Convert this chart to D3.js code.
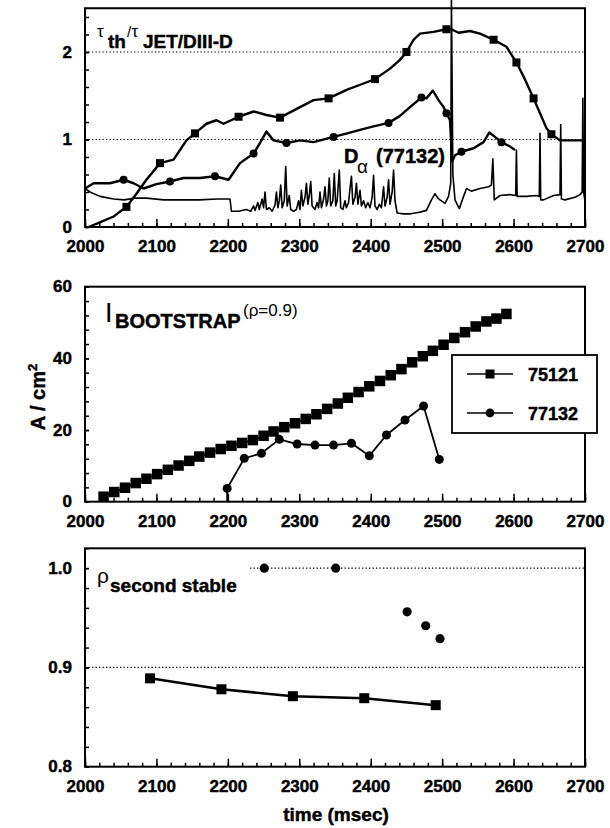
<!DOCTYPE html>
<html><head><meta charset="utf-8">
<script src="https://cdn.jsdelivr.net/npm/d3@7"></script>
<style>
body{margin:0;background:#fff;}
svg{display:block;font-family:"Liberation Sans",Arial,sans-serif;}
</style></head><body>
<svg id="c" width="610" height="828"></svg>
<script>
// ---------- DATA ----------
const xTickLabels = [2000, 2100, 2200, 2300, 2400, 2500, 2600, 2700];
const p1TickLabels = [0, 1, 2];
const p2TickLabels = [0, 20, 40, 60];
const p3TickLabels = [0.8, 0.9, 1.0];

// Panel 1: tau_th / tau_JET/DIII-D (75121, squares)
const tau75121 = [[2005,0],[2020,0.05],[2040,0.12],[2058,0.23],[2072,0.38],[2086,0.54],[2105,0.73],[2124,0.77],[2142,0.99],[2154,1.07],[2170,1.18],[2184,1.22],[2194,1.18],[2215,1.26],[2236,1.32],[2254,1.28],[2273,1.25],[2301,1.37],[2320,1.45],[2341,1.47],[2367,1.57],[2390,1.64],[2406,1.69],[2427,1.81],[2441,1.91],[2450,2.0],[2460,2.14],[2469,2.21],[2488,2.23],[2506,2.26],[2513,2.26],[2523,2.22],[2539,2.24],[2553,2.21],[2572,2.14],[2590,2.06],[2604,1.88],[2614,1.72],[2628,1.47],[2637,1.30],[2646,1.13],[2653,1.06],[2665,0.99],[2684,0.99],[2698,0.99]];
const tau75121Marks = [[2058,0.23],[2105,0.73],[2154,1.07],[2215,1.26],[2273,1.25],[2341,1.47],[2406,1.69],[2450,2.0],[2506,2.26],[2572,2.14],[2604,1.88],[2628,1.47],[2653,1.06]];
// Panel 1: tau (77132, circles)
const tau77132 = [[2000,0.44],[2012,0.50],[2035,0.50],[2054,0.54],[2068,0.50],[2082,0.44],[2100,0.49],[2119,0.52],[2138,0.56],[2161,0.56],[2182,0.58],[2201,0.54],[2217,0.73],[2236,0.84],[2245,0.96],[2254,1.09],[2264,0.99],[2282,0.96],[2301,0.99],[2320,0.97],[2348,1.03],[2367,1.07],[2385,1.11],[2404,1.15],[2425,1.19],[2441,1.27],[2455,1.37],[2471,1.48],[2478,1.47],[2487,1.56],[2495,1.45],[2502,1.37],[2506,1.30],[2511,1.22],[2514,0.75],[2518,0.82],[2527,0.86],[2544,0.90],[2558,0.97],[2566,1.08],[2574,1.03],[2583,0.97],[2595,0.92],[2602,0.88]];
const tau77132Marks = [[2054,0.54],[2119,0.52],[2182,0.58],[2236,0.84],[2282,0.96],[2348,1.03],[2425,1.19],[2471,1.48],[2506,1.30],[2527,0.86],[2583,0.97]];
// Panel 1: D-alpha (77132)
const dAlpha = [[2000,0.44],[2007,0.40],[2021,0.35],[2040,0.32],[2055,0.31],[2070,0.33],[2086,0.33],[2110,0.31],[2133,0.31],[2160,0.31],[2185,0.32],[2203,0.32],[2205,0.18],[2215,0.18],[2226,0.20],[2232,0.18],[2236,0.24],[2238,0.19],[2242,0.28],[2244,0.20],[2248,0.32],[2250,0.22],[2252,0.40],[2254,0.20],[2258,0.22],[2262,0.18],[2266,0.25],[2268,0.40],[2270,0.22],[2272,0.30],[2274,0.48],[2276,0.22],[2279,0.30],[2281,0.69],[2283,0.24],[2286,0.36],[2288,0.20],[2292,0.18],[2296,0.20],[2299,0.30],[2301,0.20],[2303,0.42],[2305,0.24],[2308,0.34],[2310,0.50],[2312,0.26],[2314,0.36],[2316,0.52],[2318,0.24],[2322,0.20],[2325,0.28],[2327,0.22],[2329,0.40],[2331,0.22],[2334,0.32],[2336,0.46],[2338,0.24],[2340,0.30],[2342,0.56],[2344,0.24],[2347,0.30],[2349,0.61],[2351,0.24],[2353,0.30],[2356,0.65],[2358,0.22],[2361,0.20],[2364,0.30],[2366,0.22],[2369,0.28],[2371,0.44],[2373,0.58],[2375,0.26],[2378,0.34],[2380,0.50],[2382,0.26],[2385,0.42],[2387,0.24],[2390,0.30],[2393,0.22],[2396,0.28],[2399,0.22],[2402,0.34],[2404,0.59],[2406,0.24],[2409,0.20],[2412,0.26],[2415,0.22],[2418,0.46],[2420,0.24],[2423,0.34],[2425,0.54],[2427,0.26],[2430,0.40],[2432,0.65],[2434,0.30],[2437,0.16],[2446,0.15],[2455,0.15],[2462,0.16],[2469,0.17],[2478,0.19],[2485,0.31],[2490,0.38],[2494,0.33],[2497,0.31],[2504,0.27],[2509,0.35],[2512,0.50],[2513,2.62],[2515,0.60],[2518,0.31],[2524,0.21],[2530,0.35],[2534,0.44],[2541,0.41],[2553,0.44],[2565,0.46],[2569,0.48],[2571,0.78],[2573,0.31],[2581,0.36],[2595,0.37],[2603,0.36],[2604,0.88],[2605,0.35],[2618,0.35],[2632,0.36],[2636,0.35],[2637,1.07],[2638,0.31],[2642,0.31],[2656,0.36],[2665,0.37],[2666,1.17],[2667,0.32],[2672,0.31],[2686,0.34],[2693,0.37],[2696,0.40],[2697,1.47],[2698,0.40],[2700,0.30]];

// Panel 2: I_bootstrap (A/cm^2)
const boot75121 = [[2026,1.4],[2041,2.7],[2056,3.9],[2071,5.2],[2086,6.4],[2101,7.7],[2116,8.9],[2131,10.1],[2146,11.4],[2160,12.6],[2175,13.7],[2190,14.7],[2205,15.6],[2220,16.4],[2235,17.2],[2250,18.4],[2264,19.6],[2279,20.8],[2294,21.9],[2309,23.1],[2324,24.4],[2339,25.9],[2354,27.4],[2368,29.0],[2383,30.6],[2398,32.2],[2413,33.7],[2428,35.3],[2443,37.0],[2458,38.9],[2473,40.6],[2487,42.1],[2502,43.8],[2517,45.7],[2532,47.3],[2547,48.9],[2562,50.3],[2576,51.1],[2590,52.4]];
const boot77132 = [[2199,0],[2199,3.7],[2223,12.1],[2247,13.5],[2272,17.4],[2297,16.1],[2322,15.8],[2348,15.8],[2373,16.3],[2398,12.8],[2422,18.6],[2448,22.8],[2474,26.7],[2496,11.8]];
const legendLabels = ["75121", "77132"];

// Panel 3: rho second stable
const rho75121 = [[2091,0.889],[2191,0.878],[2291,0.871],[2391,0.869],[2491,0.862]];
const rho77132 = [[2251,1.0],[2351,1.0],[2451,0.956],[2477,0.942],[2497,0.929]];

// ---------- DRAW ----------
const svg = d3.select('#c');
const X0 = 85, X1 = 585;
const x = d3.scaleLinear().domain([2000, 2700]).range([X0, X1]);
const minorX = d3.range(2000, 2701, 20);
const FONT = '"Liberation Sans", Arial, sans-serif';

function heavy(sel) {
  sel.attr('stroke', '#000').attr('stroke-width', 0.45).attr('paint-order', 'stroke');
}

function panel(top, bottom, domain, yLabels, yMinorStep, fmt, grid, gridStart) {
  const y = d3.scaleLinear().domain(domain).range([bottom, top]);
  const g = svg.append('g');
  grid.forEach(v => {
    g.append('line').attr('x1', gridStart || X0).attr('x2', X1)
      .attr('y1', y(v)).attr('y2', y(v))
      .attr('stroke', '#000').attr('stroke-width', 1.2)
      .attr('stroke-dasharray', '1.3,2.2');
  });
  const bx = g.append('g').attr('transform', `translate(0,${bottom})`)
    .call(d3.axisBottom(x).tickValues(minorX).tickSize(-4).tickFormat(''));
  const bX = g.append('g').attr('transform', `translate(0,${bottom})`)
    .call(d3.axisBottom(x).tickValues(xTickLabels).tickSize(-8).tickPadding(13).tickFormat(d3.format('d')));
  const minorY = d3.range(domain[0], domain[1] + 1e-9, yMinorStep);
  const lx = g.append('g').attr('transform', `translate(${X0},0)`)
    .call(d3.axisLeft(y).tickValues(minorY).tickSize(-4).tickFormat(''));
  const lY = g.append('g').attr('transform', `translate(${X0},0)`)
    .call(d3.axisLeft(y).tickValues(yLabels).tickSize(-4).tickPadding(13).tickFormat(fmt));
  [bx, bX, lx, lY].forEach(a => {
    a.select('.domain').remove();
    a.selectAll('line').attr('stroke', '#000').attr('stroke-width', 1.5);
    a.selectAll('text').attr('fill', '#000').style('font-family', FONT)
      .style('font-size', '17px').style('font-weight', 'bold').call(heavy);
  });
  lY.selectAll('text').attr('dy', '0.3em');
  g.append('rect').attr('x', X0).attr('y', top).attr('width', X1 - X0).attr('height', bottom - top)
    .attr('fill', 'none').attr('stroke', '#000').attr('stroke-width', 2);
  return {g, y};
}

function drawLine(p, data, w) {
  p.g.append('path').datum(data)
    .attr('d', d3.line().x(d => x(d[0])).y(d => p.y(d[1])))
    .attr('fill', 'none').attr('stroke', '#000').attr('stroke-width', w)
    .attr('stroke-linejoin', 'round');
}
function squares(p, data, s) {
  p.g.selectAll(null).data(data).enter().append('rect')
    .attr('x', d => x(d[0]) - s / 2).attr('y', d => p.y(d[1]) - s / 2)
    .attr('width', s).attr('height', s).attr('fill', '#000');
}
function circles(p, data, r) {
  p.g.selectAll(null).data(data).enter().append('circle')
    .attr('cx', d => x(d[0])).attr('cy', d => p.y(d[1])).attr('r', r).attr('fill', '#000');
}
function txt(xp, yp, s, size, weight, anchor) {
  const t = svg.append('text').attr('x', xp).attr('y', yp).text(s)
    .style('font-family', FONT).style('font-size', size + 'px')
    .style('font-weight', weight || 'bold').attr('text-anchor', anchor || 'start').attr('fill', '#000');
  if ((weight || 'bold') === 'bold') t.call(heavy);
  return t;
}

// Panel 1
const p1 = panel(8.25, 227, [0, 2.5], p1TickLabels, 0.2, d3.format('d'), [1, 2]);
drawLine(p1, dAlpha, 1.6);
drawLine(p1, tau77132, 2.4);
drawLine(p1, tau75121, 2.4);
squares(p1, tau75121Marks, 8);
circles(p1, tau77132Marks, 4);
txt(97, 37, 'τ', 17, 'normal');
txt(108, 48, 'th', 19);
txt(127, 37, '/', 15, 'normal');
txt(131.5, 37, 'τ', 17, 'normal');
txt(143, 48, 'JET/DIII-D', 19);
txt(344, 163, 'D', 20);
txt(357, 173, 'α', 19, 'normal');
txt(376, 163, '(77132)', 20);

// Panel 2
const p2 = panel(286.7, 501.7, [0, 60], p2TickLabels, 4, d3.format('d'), []);
drawLine(p2, boot75121, 1.8);
drawLine(p2, boot77132, 1.8);
squares(p2, boot75121, 10.5);
circles(p2, boot77132.slice(1), 4.5);
txt(105, 322, 'I', 27, 'normal');
txt(115, 328, 'BOOTSTRAP', 20);
txt(243, 316, '(ρ=0.9)', 17, 'normal');
const lg = svg.append('g');
lg.append('rect').attr('x', 452).attr('y', 355).attr('width', 145).attr('height', 78)
  .attr('fill', '#fff').attr('stroke', '#000').attr('stroke-width', 1.8);
legendLabels.forEach((lab, i) => {
  const yy = 374 + i * 39;
  lg.append('line').attr('x1', 467).attr('x2', 513).attr('y1', yy).attr('y2', yy)
    .attr('stroke', '#000').attr('stroke-width', 1.4);
  if (i === 0) lg.append('rect').attr('x', 485.5).attr('y', yy - 4.5).attr('width', 9).attr('height', 9).attr('fill', '#000');
  else lg.append('circle').attr('cx', 490).attr('cy', yy).attr('r', 4.4).attr('fill', '#000');
  lg.append('text').attr('x', 528).attr('y', yy + 6.5).text(lab)
    .style('font-family', FONT).style('font-size', '18px').style('font-weight', 'bold').call(heavy);
});
svg.append('text').attr('transform', 'translate(45,397) rotate(-90)')
  .attr('text-anchor', 'middle').style('font-family', FONT).style('font-size', '20px').style('font-weight', 'bold')
  .call(heavy)
  .call(t => { t.append('tspan').text('A / cm'); t.append('tspan').text('2').attr('dy', -8).style('font-size', '13px'); });

// Panel 3
const p3 = panel(548.3, 766.7, [0.8, 1.02], p3TickLabels, 0.02, d3.format('.1f'), [0.9]);
p3.g.append('line').attr('x1', 250).attr('x2', X1).attr('y1', p3.y(1.0)).attr('y2', p3.y(1.0))
  .attr('stroke', '#000').attr('stroke-width', 1.2).attr('stroke-dasharray', '1.3,2.2');
drawLine(p3, rho75121, 2.5);
squares(p3, rho75121, 10);
circles(p3, rho77132, 4.6);
txt(97, 583, 'ρ', 21, 'normal');
txt(110, 592, 'second stable', 19);
txt(336, 821, 'time (msec)', 19, 'bold', 'middle');
</script>
</body></html>
